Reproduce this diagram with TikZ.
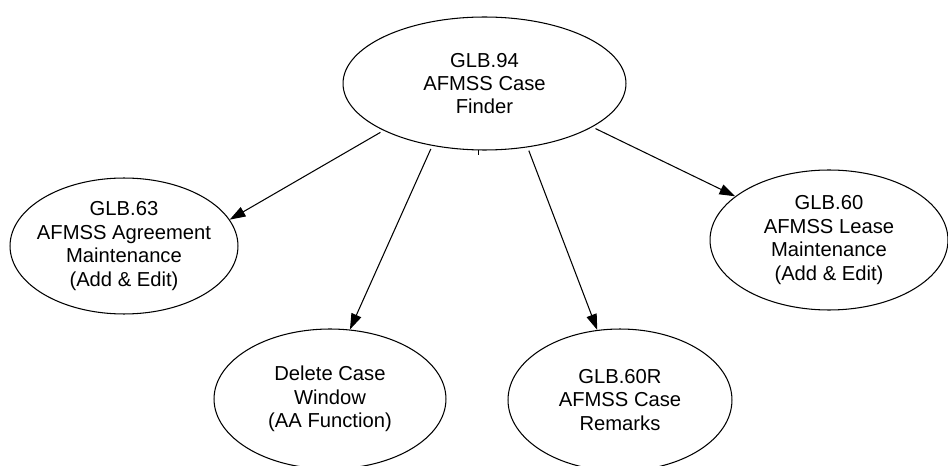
\documentclass[tikz,border=0pt]{standalone}
\usepackage{fontspec}
\setmainfont{Liberation Sans}
\usetikzlibrary{shapes.geometric, arrows.meta}

\begin{document}
\begin{tikzpicture}[x=0.02cm, y=-0.02cm, line join=round,
    form/.style={ellipse, draw, line width=0.6pt, inner xsep=-1.5cm, inner ysep=-0.5cm, align=center,
        font=\fontsize{11.5}{13.3}\selectfont},
    link/.style={-{Triangle[length=9pt, width=6pt]}, line width=0.6pt, shorten <=2pt}]
    % 1. Frame
    \useasboundingbox (0,0) rectangle (948,466);
    \clip (0,0) rectangle (948,466);

    % 2. Forms (ellipses)
    \node[form, minimum width=5.66cm, minimum height=2.66cm] (finder) at (484.5,83.5) {GLB.94\\AFMSS Case\\Finder};
    \node[form, minimum width=4.56cm, minimum height=2.72cm] (agree) at (124,246) {GLB.63\\AFMSS Agreement\\Maintenance\\(Add \& Edit)};
    \node[form, minimum width=4.76cm, minimum height=2.80cm] (lease) at (829,240) {GLB.60\\AFMSS Lease\\Maintenance\\(Add \& Edit)};
    \node[form, minimum width=4.64cm, minimum height=2.80cm] (delete) at (330,399) {Delete Case\\Window\\(AA Function)};
    \node[form, minimum width=4.48cm, minimum height=2.84cm] (remarks) at (620,400) {GLB.60R\\AFMSS Case\\Remarks};

    % 3. Links
    \draw[link] (finder.205.5) -- (agree.14.4);
    \draw[link] (finder.230) -- (delete.74);
    \draw[link] (finder.304.4) -- (remarks.108);
    \draw[link] (finder.338.7) -- (lease.155.1);

    % stub under the finder
    \draw[line width=0.6pt] (finder.265.3) -- ++(0,5);
\end{tikzpicture}
\end{document}
